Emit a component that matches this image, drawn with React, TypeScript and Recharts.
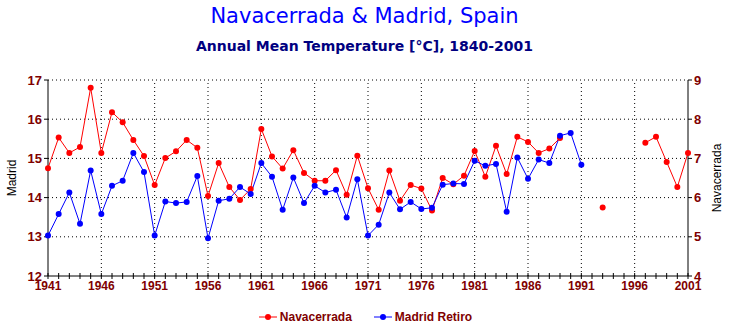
import React from "react";
import {
  LineChart,
  Line,
  XAxis,
  YAxis,
  ReferenceLine,
  Legend,
} from "recharts";

const years = [
  1941, 1942, 1943, 1944, 1945, 1946, 1947, 1948, 1949, 1950,
  1951, 1952, 1953, 1954, 1955, 1956, 1957, 1958, 1959, 1960,
  1961, 1962, 1963, 1964, 1965, 1966, 1967, 1968, 1969, 1970,
  1971, 1972, 1973, 1974, 1975, 1976, 1977, 1978, 1979, 1980,
  1981, 1982, 1983, 1984, 1985, 1986, 1987, 1988, 1989, 1990,
  1991, 1992, 1993, 1994, 1995, 1996, 1997, 1998, 1999, 2000,
  2001,
];

// Navacerrada, right axis (°C)
const navacerrada: (number | null)[] = [
  6.75, 7.53, 7.14, 7.29, 8.8, 7.14, 8.18, 7.92, 7.47, 7.06,
  6.32, 7.01, 7.18, 7.47, 7.27, 6.04, 6.88, 6.27, 5.94, 6.22,
  7.75, 7.05, 6.74, 7.21, 6.63, 6.43, 6.43, 6.7, 6.07, 7.07,
  6.24, 5.69, 6.69, 5.92, 6.32, 6.23, 5.67, 6.5, 6.34, 6.56,
  7.19, 6.53, 7.32, 6.6, 7.55, 7.42, 7.14, 7.25, 7.52, null,
  null, null, 5.75, null, null, null, 7.4, 7.55, 6.91, 6.27,
  7.14,
];

// Madrid Retiro, left axis (°C)
const madridRetiro: (number | null)[] = [
  13.03, 13.58, 14.13, 13.33, 14.69, 13.58, 14.3, 14.43, 15.14, 14.65,
  13.03, 13.9, 13.86, 13.89, 14.55, 12.96, 13.92, 13.97, 14.27, 14.09,
  14.88, 14.53, 13.69, 14.51, 13.86, 14.3, 14.13, 14.2, 13.49, 14.47,
  13.03, 13.31, 14.13, 13.7, 13.89, 13.71, 13.74, 14.33, 14.36, 14.35,
  14.94, 14.81, 14.86, 13.64, 15.02, 14.48, 14.97, 14.88, 15.58, 15.65,
  14.84, null, null, null, null, null, null, null, null, null,
  null,
];

const labelYears = [1941, 1946, 1951, 1956, 1961, 1966, 1971, 1976, 1981, 1986, 1991, 1996, 2001];
const madridTicks = [12, 13, 14, 15, 16, 17];
const navaTicks = [4, 5, 6, 7, 8, 9];

const data = years.map((year, i) => ({
  year,
  nava: navacerrada[i],
  madrid: madridRetiro[i],
}));

const MAROON = "#800000";
const NARROW = "'Liberation Sans Narrow', 'Liberation Sans', Arial, sans-serif";

function YearTick(props: any) {
  const { x, y, payload } = props;
  const yr = payload.value;
  return (
    <g>
      <line x1={x} x2={x} y1={y - 3} y2={y + 3} stroke="#000" />
      {labelYears.includes(yr) && (
        <text
          x={x}
          y={y + 14}
          textAnchor="middle"
          fill={MAROON}
          fontWeight="bold"
          fontSize={12}
          fontFamily={NARROW}
        >
          {yr}
        </text>
      )}
    </g>
  );
}

function LegendBox() {
  const items = [
    { name: "Navacerrada", color: "#ff0000" },
    { name: "Madrid Retiro", color: "#0000ff" },
  ];
  return (
    <div style={{ display: "flex", justifyContent: "center", gap: 22, paddingLeft: 2 }}>
      {items.map((it) => (
        <div key={it.name} style={{ display: "flex", alignItems: "center" }}>
          <svg width={18} height={10}>
            <line x1={0} x2={18} y1={5} y2={5} stroke={it.color} />
            <circle cx={9} cy={5} r={3} fill={it.color} />
          </svg>
          <span
            style={{
              marginLeft: 3,
              color: MAROON,
              fontWeight: "bold",
              fontSize: 12,
              fontFamily: NARROW,
            }}
          >
            {it.name}
          </span>
        </div>
      ))}
    </div>
  );
}

export default function App() {
  const tickStyle = { fill: MAROON, fontWeight: "bold", fontSize: 13, fontFamily: NARROW };
  return (
    <div style={{ position: "absolute", left: 0, top: 0, width: 729, height: 325, background: "#fff" }}>
      <div
        style={{
          position: "absolute",
          top: 4,
          width: 729,
          textAlign: "center",
          color: "#0000ff",
          fontSize: 21,
          fontFamily: "'DejaVu Sans', sans-serif",
        }}
      >
        Navacerrada &amp; Madrid, Spain
      </div>
      <div
        style={{
          position: "absolute",
          top: 38,
          width: 729,
          textAlign: "center",
          color: "#000080",
          fontSize: 14,
          fontWeight: "bold",
          fontFamily: "'DejaVu Sans', sans-serif",
        }}
      >
        Annual Mean Temperature [°C], 1840-2001
      </div>
      <LineChart
        width={729}
        height={325}
        data={data}
        margin={{ top: 80, right: 0, bottom: 29, left: 0 }}
      >
        <XAxis
          dataKey="year"
          type="number"
          domain={[1941, 2001]}
          ticks={years}
          interval={0}
          height={20}
          tickSize={0}
          tickMargin={0}
          tickLine={false}
          tick={<YearTick />}
          axisLine={{ stroke: "#000" }}
        />
        <YAxis
          yAxisId="left"
          domain={[12, 17]}
          ticks={madridTicks}
          interval={0}
          width={48}
          tickSize={4}
          tickMargin={2}
          tick={tickStyle}
          tickLine={{ stroke: "#000" }}
          axisLine={{ stroke: "#000" }}
          label={{
            value: "Madrid",
            angle: -90,
            position: "insideLeft",
            offset: 12,
            style: { textAnchor: "middle", fill: "#000", fontSize: 12, fontFamily: "'Liberation Sans', Arial" },
          }}
        />
        <YAxis
          yAxisId="right"
          orientation="right"
          domain={[4, 9]}
          ticks={navaTicks}
          interval={0}
          width={41}
          tickSize={4}
          tickMargin={2}
          tick={tickStyle}
          tickLine={{ stroke: "#000" }}
          axisLine={{ stroke: "#000" }}
          label={{
            value: "Navacerrada",
            angle: -90,
            position: "insideRight",
            offset: 12,
            style: { textAnchor: "middle", fill: "#000", fontSize: 12, fontFamily: "'Liberation Sans', Arial" },
          }}
        />
        {madridTicks.slice(1).map((t) => (
          <ReferenceLine key={"h" + t} yAxisId="left" y={t} stroke="#000" strokeDasharray="1 3" />
        ))}
        {labelYears.slice(1, -1).map((yr) => (
          <ReferenceLine key={"v" + yr} yAxisId="left" x={yr} stroke="#000" strokeDasharray="1 3" />
        ))}
        <Line
          yAxisId="right"
          dataKey="nava"
          name="Navacerrada"
          stroke="#ff0000"
          strokeWidth={1}
          dot={{ r: 3, fill: "#ff0000", stroke: "#ff0000", strokeWidth: 0 }}
          activeDot={false}
          isAnimationActive={false}
        />
        <Line
          yAxisId="left"
          dataKey="madrid"
          name="Madrid Retiro"
          stroke="#0000ff"
          strokeWidth={1}
          dot={{ r: 3, fill: "#0000ff", stroke: "#0000ff", strokeWidth: 0 }}
          activeDot={false}
          isAnimationActive={false}
        />
        <Legend
          layout="horizontal"
          verticalAlign="middle"
          content={<LegendBox />}
          wrapperStyle={{ position: "absolute", left: 0, top: 310, width: 729, height: 16 }}
        />
      </LineChart>
    </div>
  );
}
